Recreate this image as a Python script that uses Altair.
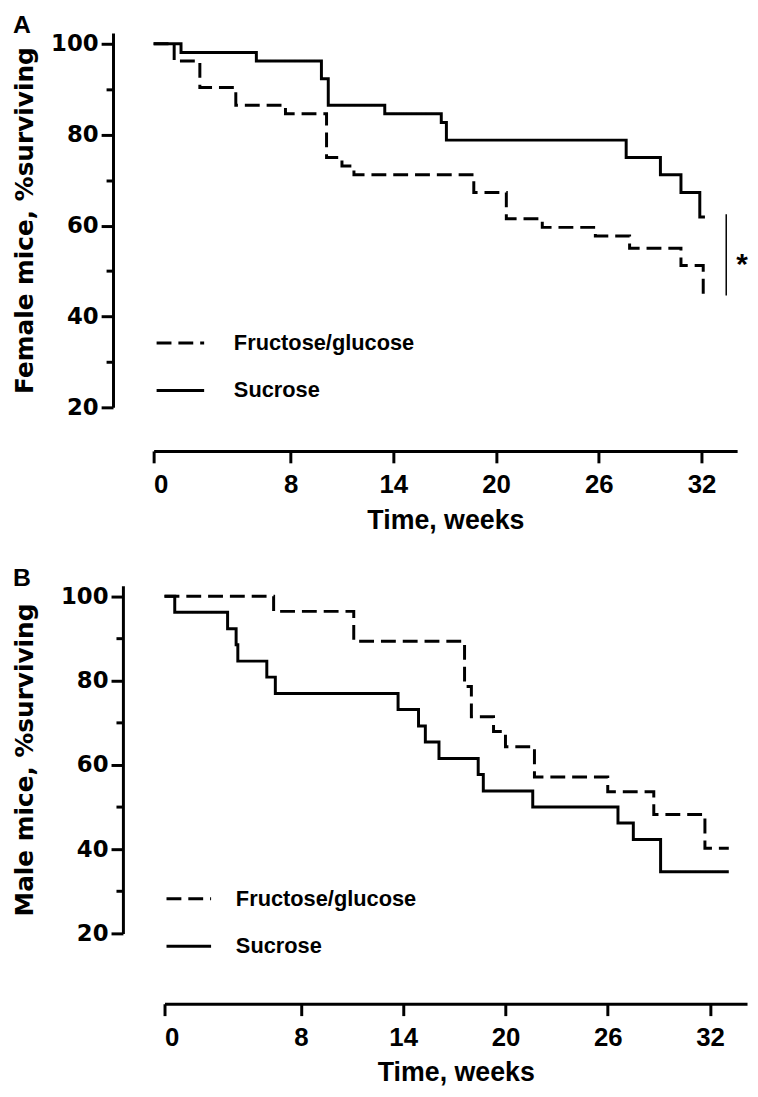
import altair as alt
import pandas as pd

# ---------------- data ----------------
SERIES = ["Fructose/glucose", "Sucrose"]
X_TICKS = [0, 8, 14, 20, 26, 32]
Y_TICKS = [20, 40, 60, 80, 100]
Y_MINOR = [30, 50, 70, 90]

# Panel A: female mice
A_FG_WEEKS = [0, 1.2, 2.7, 4.8, 7.7, 10.1, 11.0, 11.7, 18.7, 20.6, 22.7, 25.8, 27.8, 30.8, 32.1, 32.25]
A_FG_SURV = [100, 96.2, 90.4, 86.5, 84.6, 75.0, 73.1, 71.2, 67.3, 61.5, 59.6, 57.7, 55.0, 51.2, 44.8, 44.8]
A_SU_WEEKS = [0, 1.6, 6.0, 9.8, 10.2, 13.5, 16.8, 17.1, 27.6, 29.6, 30.8, 31.9, 32.2]
A_SU_SURV = [100, 98.1, 96.2, 92.3, 86.5, 84.6, 82.7, 78.8, 75.0, 71.2, 67.3, 61.9, 61.9]

# Panel B: male mice
B_FG_WEEKS = [0, 6.4, 11.1, 17.6, 18.0, 19.3, 20.0, 21.7, 26.0, 28.7, 31.7, 33.1]
B_FG_SURV = [100, 96.4, 89.3, 78.6, 71.4, 67.9, 64.3, 57.1, 53.6, 48.2, 40.2, 40.2]
B_SU_WEEKS = [0, 0.6, 3.7, 4.2, 4.3, 6.0, 6.5, 13.7, 14.9, 15.3, 16.1, 18.4, 18.7, 21.6, 26.6, 27.5, 29.1, 33.1]
B_SU_SURV = [100, 96.2, 92.3, 88.5, 84.6, 80.8, 76.9, 73.1, 69.2, 65.4, 61.5, 57.7, 53.8, 50.0, 46.2, 42.3, 34.6, 34.6]

FONT_NUM = "DejaVu Sans"
FONT_TXT = "Liberation Sans"
DASH = [15, 7]


def panel(fg_w, fg_s, su_w, su_s, *, letter, ytitle, xdom, xrange, width, height,
          ydom, yoff, xoff, title_x, leg, sig=None):
    df = pd.concat([
        pd.DataFrame({"week": fg_w, "surv": fg_s, "group": SERIES[0]}),
        pd.DataFrame({"week": su_w, "surv": su_s, "group": SERIES[1]}),
    ], ignore_index=True)
    xs = alt.Scale(domain=xdom, range=xrange, nice=False, zero=False)
    ys = alt.Scale(domain=ydom, nice=False, zero=False)
    common = dict(domainColor="black", domainWidth=3, tickColor="black", tickWidth=3,
                  labelColor="black", titleColor="black", grid=False)
    x_axis = alt.Axis(values=X_TICKS, offset=xoff, tickSize=12, labelFont=FONT_TXT,
                      labelFontSize=26, labelFontWeight="bold", labelPadding=9,
                      title="Time, weeks", titleFont=FONT_TXT, titleFontSize=27,
                      titleFontWeight="bold", titlePadding=10, **common)
    y_axis = alt.Axis(values=Y_TICKS, offset=yoff, tickSize=12, labelFont=FONT_NUM,
                      labelFontSize=23, labelFontWeight="bold", labelPadding=3,
                      title=ytitle, titleFont=FONT_NUM, titleFontSize=25,
                      titleFontWeight="bold", titleX=title_x, orient="left", **common)
    lines = alt.Chart(df).mark_line(interpolate="step-after", strokeWidth=3, color="black",
                                    strokeCap="butt").encode(
        x=alt.X("week:Q", scale=xs, axis=x_axis),
        y=alt.Y("surv:Q", scale=ys, axis=y_axis),
        strokeDash=alt.StrokeDash("group:N", scale=alt.Scale(domain=SERIES, range=[DASH, [1, 0]]),
                                  legend=None),
        detail="group:N",
    )
    minor = alt.Chart(pd.DataFrame({"v": Y_MINOR})).mark_point(opacity=0).encode(
        y=alt.Y("v:Q", scale=ys,
                axis=alt.Axis(values=Y_MINOR, offset=yoff, tickSize=7, labels=False, domain=False,
                              title=None, tickColor="black", tickWidth=3, grid=False, orient="left"))
    )
    layers = [lines, minor]
    for label, dash, ypx in [(SERIES[0], DASH, leg["y0"]), (SERIES[1], [1, 0], leg["y1"])]:
        ld = pd.DataFrame({"g": [label]})
        layers.append(alt.Chart(ld).mark_rule(strokeWidth=3, color="black", strokeDash=dash,
                                              strokeCap="butt").encode(
            x=alt.value(leg["x0"]), x2=alt.value(leg["x1"]), y=alt.value(ypx)))
        layers.append(alt.Chart(ld).mark_text(align="left", baseline="middle", font=FONT_TXT,
                                              fontSize=22, fontWeight="bold", color="black").encode(
            x=alt.value(leg["tx"]), y=alt.value(ypx), text="g:N"))
    layers.append(alt.Chart(pd.DataFrame({"g": [letter]})).mark_text(
        align="left", baseline="alphabetic", font=FONT_TXT, fontSize=25, fontWeight="bold",
        color="black").encode(x=alt.value(-142), y=alt.value(0), text="g:N"))
    if sig:
        sd = pd.DataFrame({"g": ["*"]})
        layers.append(alt.Chart(sd).mark_rule(strokeWidth=1.5, color="black").encode(
            x=alt.value(sig["x"]), y=alt.value(sig["y0"]), y2=alt.value(sig["y1"])))
        layers.append(alt.Chart(sd).mark_text(align="center", baseline="alphabetic", font=FONT_TXT,
                                              fontSize=30, fontWeight="bold", color="black").encode(
            x=alt.value(sig["sx"]), y=alt.value(sig["sy"]), text="g:N"))
    return alt.layer(*layers).resolve_axis(y="independent").properties(width=width, height=height)


panel_a = panel(A_FG_WEEKS, A_FG_SURV, A_SU_WEEKS, A_SU_SURV,
                letter="A", ytitle="Female mice, %surviving",
                xdom=[0, 34.08], xrange=[0, 589], width=589, height=378,
                ydom=[20, 102.4], yoff=41, xoff=44, title_x=-76,
                leg={"x0": 3, "x1": 51, "tx": 81, "y0": 313, "y1": 361},
                sig={"x": 578, "y0": 183, "y1": 265, "sx": 594, "sy": 243})

panel_b = panel(B_FG_WEEKS, B_FG_SURV, B_SU_WEEKS, B_SU_SURV,
                letter="B", ytitle="Male mice, %surviving",
                xdom=[0, 34.17], xrange=[11, 599], width=600, height=351,
                ydom=[20, 102.5], yoff=31, xoff=71, title_x=-86,
                leg={"x0": 13, "x1": 58, "tx": 83, "y0": 316, "y1": 364})

chart = alt.vconcat(panel_a, panel_b, spacing=33).properties(
    padding={"left": 4, "top": 0, "right": 2, "bottom": 2},
    background="white",
).configure_view(stroke=None)

chart.save("out.html", embed_options={"renderer": "svg", "actions": False})
